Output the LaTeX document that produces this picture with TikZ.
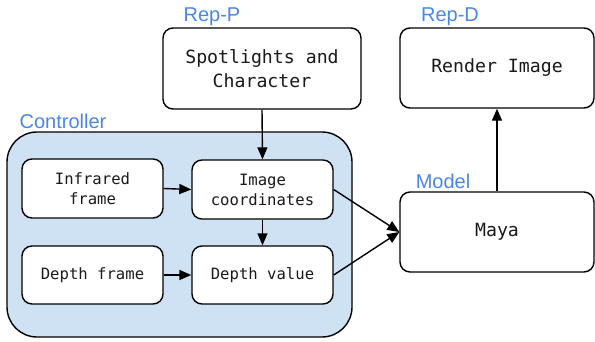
\documentclass[tikz,border=0pt]{standalone}
\usepackage{fontspec}
\setmainfont{Liberation Sans}
\setmonofont{DejaVu Sans Mono}
\usetikzlibrary{arrows.meta}
\definecolor{panelblue}{HTML}{CFE2F3}
\definecolor{labelblue}{HTML}{4A86E8}
\definecolor{inktext}{HTML}{1A1A1A}
\tikzset{
  box/.style={draw=black, line width=1.4pt, rounded corners=10pt, fill=white,
    align=center, inner sep=0pt, text=inktext,
    font=\ttfamily\fontsize{18.2}{24}\selectfont},
  smallbox/.style={box, font=\ttfamily\fontsize{15.6}{20}\selectfont},
  grouplabel/.style={text=labelblue, font=\fontsize{20}{22}\selectfont, inner sep=0pt},
  flow/.style={line width=1.4pt, -{Triangle[length=12pt,width=10pt]}},
}
\begin{document}
\begin{tikzpicture}[x=1pt, y=-1pt]
  \useasboundingbox (0,0) rectangle (595,341);

  % controller panel
  \draw[line width=1.4pt, fill=panelblue, rounded corners=30pt] (7,132) rectangle (352,337);

  % group labels
  \node[grouplabel] (lrepp) at (212,17) {Rep-P};
  \node[grouplabel] (lrepd) at (450,17) {Rep-D};
  \node[grouplabel] (lctrl) at (63,121) {Controller};
  \node[grouplabel] (lmodel) at (443,181) {Model};

  % boxes
  \node[box, minimum width=198pt, minimum height=81pt] (spot) at (262,68.5) {Spotlights and\\Character};
  \node[box, minimum width=194pt, minimum height=80pt] (render) at (497,68) {Render Image};
  \node[box, minimum width=194pt, minimum height=80pt] (maya) at (497,232) {Maya};

  \node[smallbox, minimum width=141pt, minimum height=59pt] (infra) at (92.5,188.5) {Infrared\\frame};
  \node[smallbox, minimum width=141pt, minimum height=59pt] (imgc) at (262.5,189.5) {Image\\coordinates};
  \node[smallbox, minimum width=141pt, minimum height=58pt] (dframe) at (92.5,275) {Depth frame};
  \node[smallbox, minimum width=141pt, minimum height=58pt] (dval) at (262.5,275) {Depth value};

  % connectors
  \draw[flow] (spot.south) -- (imgc.north);
  \draw[flow] (infra.east) -- (imgc.west);
  \draw[flow] (imgc.south) -- (dval.north);
  \draw[flow] (dframe.east) -- (dval.west);
  \draw[flow] (imgc.east) -- (maya.west);
  \draw[flow] (dval.east) -- (maya.west);
  \draw[flow] (maya.north) -- (render.south);
\end{tikzpicture}
\end{document}
